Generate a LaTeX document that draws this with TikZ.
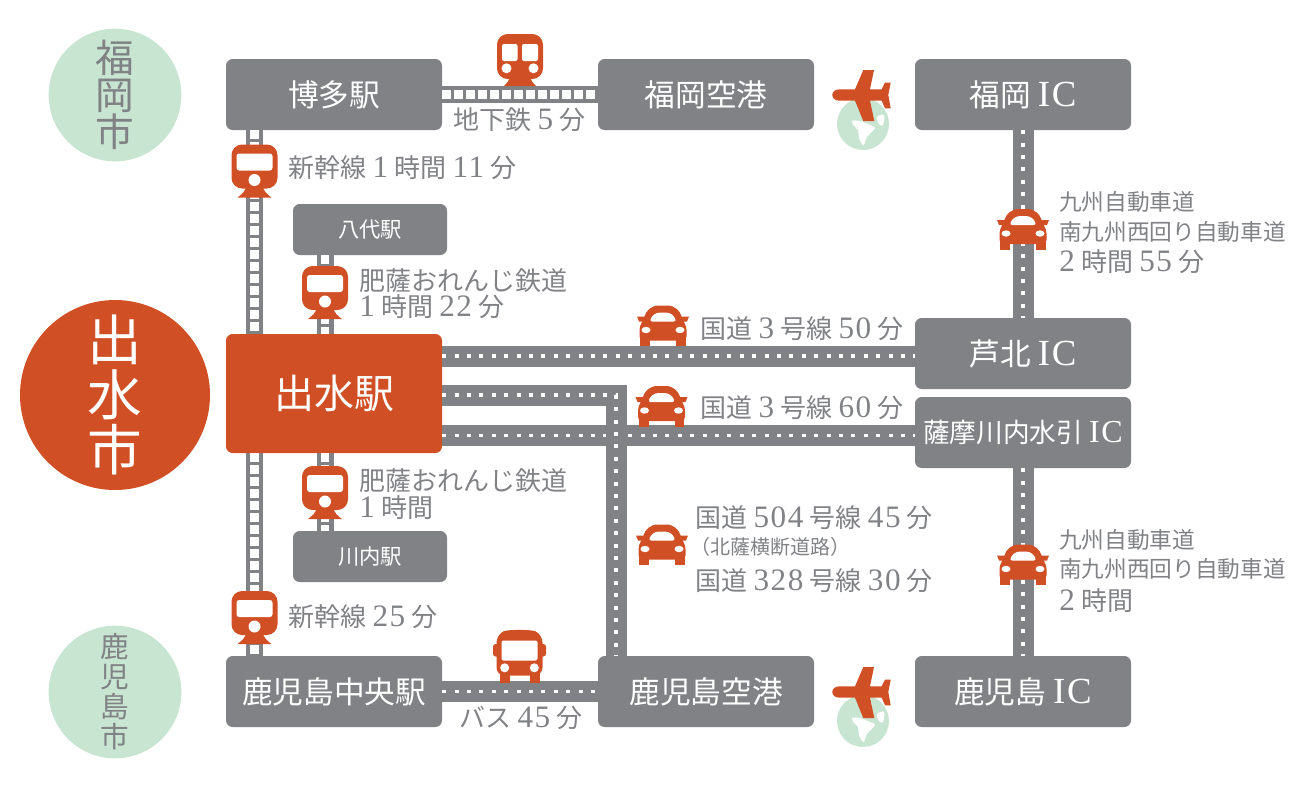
\documentclass[tikz,border=0pt]{standalone}
\usepackage{fontspec}
\usepackage{xcolor}
\setmainfont{Noto Sans CJK JP}
\newfontfamily\latinfont[Scale=1.2,LetterSpace=5]{Liberation Serif}
\newcommand{\lt}[1]{\hspace{.24em}{\latinfont #1}\hspace{.24em}}
\newcommand{\ltstart}[1]{{\latinfont #1}\hspace{.24em}}
\newcommand{\fs}[1]{\fontsize{#1}{#1}\selectfont}
\definecolor{tgrey}{HTML}{808285}
\definecolor{torange}{HTML}{D14F24}
\definecolor{tgreen}{HTML}{C8E5D2}

\tikzset{
  trainicon/.pic={
    \fill[torange] (-8,15) .. controls (-9,21) and (-13,24) .. (-17,27) -- (17,27) .. controls (13,24) and (9,21) .. (8,15) -- cycle;
    \fill[torange,rounded corners=8pt] (-23,-26) rectangle (23,18);
    \fill[white,rounded corners=2pt] (-18,-17) rectangle (18,0);
    \fill[white] (0,9.5) circle (6);
  },
  subwayicon/.pic={
    \fill[torange] (-10,16) .. controls (-11,21) and (-13,23) .. (-16,26) -- (16,26) .. controls (13,23) and (11,21) .. (10,16) -- cycle;
    \fill[torange,rounded corners=8pt] (-23,-26) rectangle (23,19);
    \fill[white,rounded corners=1.5pt] (-18,-16) rectangle (-2.5,1);
    \fill[white,rounded corners=1.5pt] (2,-16) rectangle (18,1);
    \fill[white] (-13.5,8.3) circle (5);
    \fill[white] (13.5,8.3) circle (5);
  },
  caricon/.pic={
    \fill[torange] (-22.7,10) rectangle (-13,20);
    \fill[torange] (13,10) rectangle (22.7,20);
    \fill[torange] (-26,-9.5) -- (-17,-9.5) -- (-19,-4.5) -- (-24,-4.5) -- cycle;
    \fill[torange] (26,-9.5) -- (17,-9.5) -- (19,-4.5) -- (24,-4.5) -- cycle;
    \fill[torange,rounded corners=3pt] (-23.5,14.5) -- (-23.5,0) -- (-19.5,-6)
      .. controls (-17,-15) and (-12,-20.5) .. (0,-20.5)
      .. controls (12,-20.5) and (17,-15) .. (19.5,-6) -- (23.5,0) -- (23.5,14.5) -- cycle;
    \fill[white,rounded corners=2pt] (-13.5,-4.5) .. controls (-11,-10) and (-8,-13.5) .. (0,-13.5)
      .. controls (8,-13.5) and (11,-10) .. (13.5,-4.5) -- cycle;
    \fill[white] (-17,4) ellipse (4.5 and 3.2);
    \fill[white] (17,4) ellipse (4.5 and 3.2);
  },
  busicon/.pic={
    \fill[torange] (-20,15) rectangle (-10,26.5);
    \fill[torange] (10,15) rectangle (20,26.5);
    \fill[torange,rounded corners=2pt] (-26.5,-12.5) rectangle (26.5,0);
    \fill[torange,rounded corners=6pt] (-23,19) -- (-23,-22)
      .. controls (-12,-27) and (12,-27) .. (23,-22) -- (23,19) -- cycle;
    \fill[white,rounded corners=1.5pt] (-18,-16) rectangle (18,4);
    \fill[white] (-14.8,11.3) circle (4.5);
    \fill[white] (14.8,11.3) circle (4.5);
  },
  planeicon/.pic={
    \fill[tgreen] (0,0) circle (26);
    \fill[white] plot[smooth cycle,tension=0.6] coordinates {(-11,-3) (-3,-3) (7,1) (12,4) (4,13) (0.5,21) (-4,14) (-5,6) (-9,2)};
    \fill[white] plot[smooth cycle,tension=0.6] coordinates {(14,-7) (21,-9) (20,1) (16,0)};
    \fill[torange,line join=round] (-30.7,-29) .. controls (-30.7,-33) and (-27,-34.7) .. (-23,-34.7)
      -- (-8,-34.7) -- (0.3,-54) -- (11,-54) -- (7,-34.7) -- (18.7,-34.7) -- (22,-41.3) -- (27.7,-41.3)
      -- (25.3,-29) -- (27.7,-15.7) -- (22,-15.7) -- (18.7,-23.3) -- (7,-23.3) -- (11.3,-3) -- (0.3,-3)
      -- (-8,-23.3) -- (-23,-23.3) .. controls (-27,-23.3) and (-30.7,-25) .. (-30.7,-29) -- cycle;
  }
}

\begin{document}
\begin{tikzpicture}[x=0.75pt,y=-0.75pt]
  \tikzstyle{city}=[circle,minimum size=99.5pt,inner sep=0pt,fill=tgreen,text=tgrey,align=center]
  \tikzstyle{station}=[rectangle,rounded corners=5pt,minimum width=162pt,minimum height=53.25pt,inner sep=0pt,fill=tgrey,text=white,font=\fs{23}]
  \tikzstyle{substation}=[rectangle,rounded corners=5pt,minimum width=115.5pt,minimum height=38.25pt,inner sep=0pt,fill=tgrey,text=white,font=\fs{16}]
  \tikzstyle{label}=[text=tgrey,inner sep=0pt,anchor=west,font=\fs{19.5}]
  \tikzstyle{smalllabel}=[text=tgrey,inner sep=0pt,anchor=west,font=\fs{17}]
  \tikzstyle{rail}=[draw=white,line width=6.2pt,dash pattern=on 6.2pt off 2.8pt,preaction={draw=tgrey,line width=12.75pt,solid}]
  \tikzstyle{road}=[draw=white,line width=2.7pt,dash pattern=on 2.9pt off 6.4pt,preaction={draw=tgrey,line width=15.75pt,solid}]
  \useasboundingbox (0,0) rectangle (1300,790);

  \node[city,font=\fs{29}] (fukuokaCity) at (115,95) {福\\[-1pt]岡\\[-1pt]市};
  \node[city,font=\fs{21.5}] (kagoshimaCity) at (115,692) {鹿\\[1pt]児\\[1pt]島\\[1pt]市};
  \node[circle,minimum size=142.5pt,inner sep=0pt,fill=torange,text=white,align=center,font=\fs{41}] (izumiCity) at (115,395) {出\\水\\市};

  \node[station] (hakata) at (334,94.5) {博多駅};
  \node[station] (fukuokaAp) at (706,94.5) {福岡空港};
  \node[station] (fukuokaIC) at (1023,94.5) {福岡 {\latinfont IC}};
  \node[substation] (yatsushiro) at (370,229.5) {八代駅};
  \node[station,fill=torange,minimum height=89.25pt,font=\fs{30}] (izumi) at (334,393.5) {出水駅};
  \node[station] (ashikita) at (1023,353.5) {芦北 {\latinfont IC}};
  \node[station,font=\fs{20}] (satsuma) at (1023,432.5) {薩摩川内水引 {\latinfont IC}};
  \node[substation] (sendai) at (370,556.5) {川内駅};
  \node[station] (kagoshimaChuo) at (334,691.5) {鹿児島中央駅};
  \node[station] (kagoshimaAp) at (706,691.5) {鹿児島空港};
  \node[station] (kagoshimaIC) at (1023,691.5) {鹿児島 {\latinfont IC}};

  \coordinate (shinkansen) at (254.5,0);
  \coordinate (hisatsu) at (325,0);
  \coordinate (routeA) at (0,356);
  \coordinate (routeB) at (0,395);
  \coordinate (routeC) at (0,435.5);
  \coordinate (turn) at (616,395);

  \draw[rail] (hakata.east) -- (fukuokaAp.west);
  \draw[rail] (hakata.south -| shinkansen) -- (izumi.north -| shinkansen);
  \draw[rail] (izumi.south -| shinkansen) -- (kagoshimaChuo.north -| shinkansen);
  \draw[rail] (yatsushiro.south -| hisatsu) -- (izumi.north -| hisatsu);
  \draw[rail] (izumi.south -| hisatsu) -- (sendai.north -| hisatsu);
  \draw[road] (fukuokaIC.south) -- (ashikita.north);
  \draw[road] (satsuma.south) -- (kagoshimaIC.north);
  \draw[road] (izumi.east |- routeA) -- (ashikita.west |- routeA);
  \draw[road] (izumi.east |- routeC) -- (satsuma.west |- routeC);
  \draw[road] (izumi.east |- routeB) -- (turn) -- (turn |- kagoshimaAp.north);
  \draw[road] (kagoshimaChuo.east) -- (kagoshimaAp.west);

  \foreach \x/\y in {254.5/170.5,325/292,325/492,254.5/617} {
    \pic at (\x,\y) {trainicon};
  }
  \foreach \x/\y in {1023/229.5,663/326,661.5/406.5,662/545,1023/565} {
    \pic at (\x,\y) {caricon};
  }
  \foreach \y in {124,721} {
    \pic at (863,\y) {planeicon};
  }
  \pic at (520,60) {subwayicon};
  \pic at (519.5,656.5) {busicon};

  \node[label] (lbSubway) at (453,120) {地下鉄\lt{5}分};
  \node[label] (lbShinA) at (288,168) {新幹線\lt{1}時間\lt{11}分};
  \node[label] (lbHisatsuA) at (359,281) {肥薩おれんじ鉄道};
  \node[label] (lbHisatsuB) at (359,307) {\ltstart{1}時間\lt{22}分};
  \node[label] (lbRouteA) at (700,329) {国道\lt{3}号線\lt{50}分};
  \node[label] (lbRouteB) at (700,408) {国道\lt{3}号線\lt{60}分};
  \node[smalllabel] (lbKyushuA) at (1059,202) {九州自動車道};
  \node[smalllabel] (lbKyushuB) at (1059,232) {南九州西回り自動車道};
  \node[label] (lbKyushuC) at (1059,262) {\ltstart{2}時間\lt{55}分};
  \node[label] (lbHisatsuC) at (359,481) {肥薩おれんじ鉄道};
  \node[label] (lbHisatsuD) at (359,508) {\ltstart{1}時間};
  \node[label] (lbRouteC) at (695,518) {国道\lt{504}号線\lt{45}分};
  \node[text=tgrey,inner sep=0pt,anchor=west,font=\fs{15}] (lbRouteD) at (690,547) {（北薩横断道路）};
  \node[label] (lbRouteE) at (695,581) {国道\lt{328}号線\lt{30}分};
  \node[smalllabel] (lbKyushuD) at (1059,540) {九州自動車道};
  \node[smalllabel] (lbKyushuE) at (1059,569) {南九州西回り自動車道};
  \node[label] (lbKyushuF) at (1059,601) {\ltstart{2}時間};
  \node[label] (lbShinB) at (288,617) {新幹線\lt{25}分};
  \node[label] (lbBus) at (459,718) {バス\lt{45}分};
\end{tikzpicture}
\end{document}
